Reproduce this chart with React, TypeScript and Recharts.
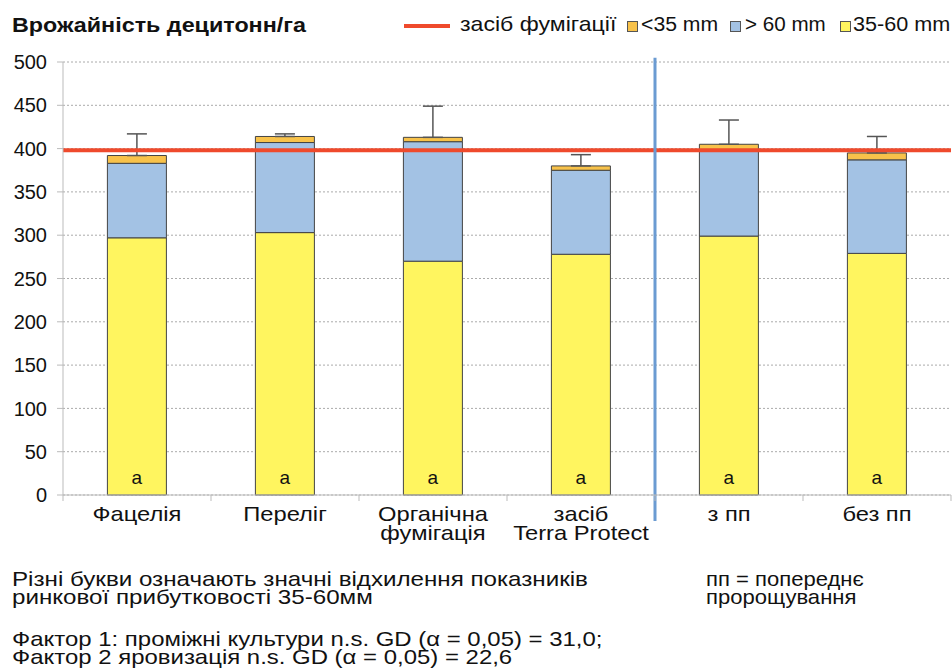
import React from 'react';
import {
  ComposedChart,
  Bar,
  XAxis,
  YAxis,
  CartesianGrid,
  ReferenceLine,
  ErrorBar,
  LabelList,
} from 'recharts';

const categories = ['Фацелія', 'Переліг', 'Органічна\nфумігація', 'засіб\nTerra Protect', 'з пп', 'без пп'];
const mid3560 = [297, 303, 270, 278, 299, 279];
const over60 = [86, 104, 138, 97, 100, 108];
const under35 = [9, 7, 5, 5, 6, 8];
const errUp = [25, 3, 36, 13, 28, 19];
const letters = ['a', 'a', 'a', 'a', 'a', 'a'];
const yTicks = [0, 50, 100, 150, 200, 250, 300, 350, 400, 450, 500];
const fumigationLevel = 398;
const dividerAfter = 'засіб\nTerra Protect';

const YELLOW = '#fff55f';
const BLUE = '#a3c2e4';
const ORANGE = '#f8c24a';
const RED = '#ef4a2c';
const FONT = '"Liberation Sans", Arial, sans-serif';

const data = categories.map((name, i) => ({
  name,
  mid: mid3560[i],
  over: over60[i],
  under: under35[i],
  err: [0, errUp[i]],
  letter: letters[i],
}));

// tickSize 6 + tickMargin 2 below the axis line
const TICK_DROP = 8;

const CategoryTick = (props: any) => {
  const { x, y, payload, index } = props;
  const lines = String(payload.value).split('\n');
  const half = payload.offset || 74;
  const axisY = y - TICK_DROP;
  return (
    <g>
      <line x1={x - half} x2={x - half} y1={axisY} y2={axisY + 6} stroke="#bbb" />
      {index === categories.length - 1 && (
        <line x1={x + half} x2={x + half} y1={axisY} y2={axisY + 6} stroke="#bbb" />
      )}
      <g transform={`translate(${x},${y}) scale(1.13,1)`}>
        <text x={0} y={0} textAnchor="middle" fontSize={21} fontFamily={FONT} fill="#111">
          {lines.map((l, i) => (
            <tspan key={i} x={0} dy={i === 0 ? 18 : 19}>
              {l}
            </tspan>
          ))}
        </text>
      </g>
    </g>
  );
};

const Stretch = ({ left, top, size, sx, bold, lh, children }: any) => (
  <div
    style={{
      position: 'absolute',
      left,
      top,
      fontSize: size,
      fontWeight: bold ? 'bold' : 'normal',
      lineHeight: lh ? `${lh}px` : 'normal',
      whiteSpace: 'nowrap',
      transform: `scaleX(${sx})`,
      transformOrigin: 'left top',
    }}
  >
    {children}
  </div>
);

const Swatch = ({ left, color }: { left: number; color: string }) => (
  <div
    style={{
      position: 'absolute',
      left,
      top: 21,
      width: 9,
      height: 9,
      background: color,
      border: '1px solid #555',
    }}
  />
);

export default function App() {
  return (
    <div
      style={{
        position: 'absolute',
        left: 0,
        top: 0,
        width: 952,
        height: 672,
        background: '#fff',
        fontFamily: FONT,
        color: '#111',
        overflow: 'hidden',
      }}
    >
      <Stretch left={12} top={13} size={21} sx={1.11} bold>
        Врожайність децитонн/га
      </Stretch>

      <div style={{ position: 'absolute', left: 404, top: 24, width: 46, height: 4, background: RED }} />
      <Stretch left={460} top={12} size={21} sx={1.1}>
        засіб фумігації
      </Stretch>
      <Swatch left={627} color={ORANGE} />
      <Stretch left={641} top={13} size={20} sx={1.06}>
        &lt;35 mm
      </Stretch>
      <Swatch left={730} color={BLUE} />
      <Stretch left={745} top={13} size={20} sx={1.03}>
        &gt; 60 mm
      </Stretch>
      <Swatch left={840} color={YELLOW} />
      <Stretch left={853} top={13} size={20} sx={1.08}>
        35-60 mm
      </Stretch>

      <ComposedChart
        width={952}
        height={672}
        data={data}
        margin={{ top: 62, right: 1, bottom: 117, left: 0 }}
        barCategoryGap="30%"
      >
        <CartesianGrid vertical={false} stroke="#aaa" strokeDasharray="2 2" />
        <XAxis
          dataKey="name"
          height={60}
          tick={<CategoryTick />}
          tickLine={false}
          tickSize={6}
          tickMargin={2}
          axisLine={{ stroke: '#bbb' }}
          interval={0}
        />
        <YAxis
          width={63}
          domain={[0, 500]}
          ticks={yTicks}
          interval={0}
          tick={{ fontSize: 20, fontFamily: FONT, fill: '#111' }}
          tickSize={6}
          tickMargin={10}
          tickLine={{ stroke: '#bbb' }}
          axisLine={{ stroke: '#bbb' }}
        />
        <Bar dataKey="mid" stackId="s" fill={YELLOW} stroke="#444" strokeWidth={1} isAnimationActive={false}>
          <LabelList
            dataKey="letter"
            position="insideBottom"
            offset={11}
            style={{ fontSize: 19, fontFamily: FONT, fill: '#111' }}
          />
        </Bar>
        <Bar dataKey="over" stackId="s" fill={BLUE} stroke="#444" strokeWidth={1} isAnimationActive={false} />
        <Bar dataKey="under" stackId="s" fill={ORANGE} stroke="#444" strokeWidth={1} isAnimationActive={false}>
          <ErrorBar dataKey="err" direction="y" width={10} stroke="#555" strokeWidth={1.5} />
        </Bar>
        <ReferenceLine y={fumigationLevel} stroke={RED} strokeWidth={4} />
        <ReferenceLine
          segment={[
            { x: dividerAfter, y: -30 },
            { x: dividerAfter, y: 505 },
          ]}
          position="end"
          ifOverflow="visible"
          stroke="#6b9bd2"
          strokeWidth={3}
        />
      </ComposedChart>

      <Stretch left={12} top={570} size={21} sx={1.15} lh={18}>
        Різні букви означають значні відхилення показників
        <br />
        ринкової прибутковості 35-60мм
      </Stretch>
      <Stretch left={706} top={570} size={21} sx={1.05} lh={18}>
        пп = попереднє
        <br />
        пророщування
      </Stretch>
      <Stretch left={12} top={630} size={21} sx={1.14} lh={18}>
        Фактор 1: проміжні культури n.s. GD (α = 0,05) = 31,0;
        <br />
        Фактор 2 яровизація n.s. GD (α = 0,05) = 22,6
      </Stretch>
    </div>
  );
}
